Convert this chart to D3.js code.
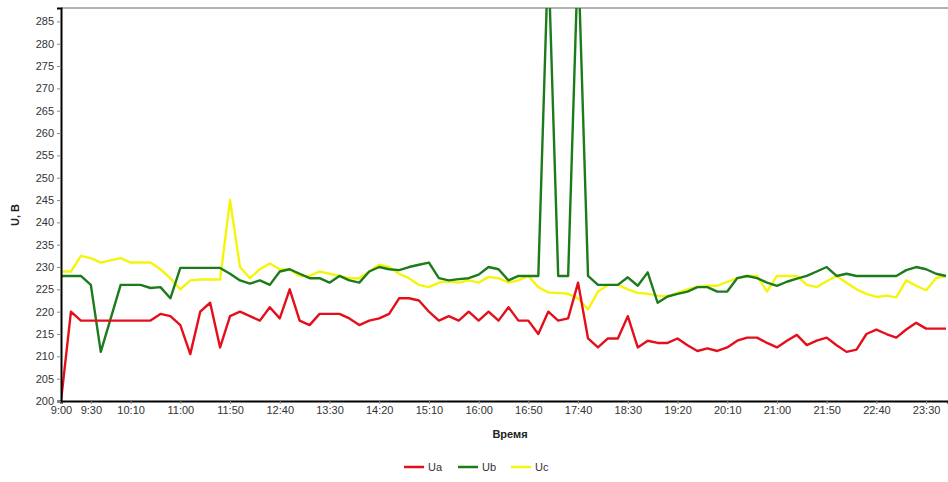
<!DOCTYPE html>
<html>
<head>
<meta charset="utf-8">
<script src="https://cdn.jsdelivr.net/npm/d3@7"></script>
<style>
  body { margin: 0; background: #fff; }
  svg { display: block; font-family: "Liberation Sans", Arial, sans-serif; }
  .tick text { fill: #333; font-size: 11px; }
</style>
</head>
<body>
<svg id="chart"></svg>
<script>
// Sample times (every 10 min)
const times = [
  "9:00","9:10","9:20","9:30","9:40","9:50","10:00","10:10","10:20","10:30","10:40","10:50",
  "11:00","11:10","11:20","11:30","11:40","11:50","12:00","12:10","12:20","12:30","12:40","12:50",
  "13:00","13:10","13:20","13:30","13:40","13:50","14:00","14:10","14:20","14:30","14:40","14:50",
  "15:00","15:10","15:20","15:30","15:40","15:50","16:00","16:10","16:20","16:30","16:40","16:50",
  "17:00","17:10","17:20","17:30","17:40","17:50","18:00","18:10","18:20","18:30","18:40","18:50",
  "19:00","19:10","19:20","19:30","19:40","19:50","20:00","20:10","20:20","20:30","20:40","20:50",
  "21:00","21:10","21:20","21:30","21:40","21:50","22:00","22:10","22:20","22:30","22:40","22:50",
  "23:00","23:10","23:20","23:30","23:40","23:50"
];

const ua = [
  200, 220, 218, 218, 218, 218, 218, 218, 218, 218, 219.5, 219,
  217, 210.5, 220, 222, 212, 219, 220, 219, 218, 221, 218.5, 225,
  218, 217, 219.5, 219.5, 219.5, 218.5, 217, 218, 218.5, 219.5, 223, 223,
  222.5, 220, 218, 219, 218, 220, 218, 220, 218, 221, 218, 218,
  215, 220, 218, 218.5, 226.5, 214, 212, 214, 214, 219, 212, 213.5,
  213, 213, 214, 212.5, 211.2, 211.8, 211.2, 212, 213.5, 214.2, 214.2, 213,
  212, 213.5, 214.8, 212.5, 213.5, 214.2, 212.5, 211, 211.5, 215, 216, 215,
  214.2, 216, 217.5, 216.2, 216.2, 216.2
];

const ub = [
  228, 228, 228, 226, 211, 218.5, 226, 226, 226, 225.3, 225.5, 223,
  229.8, 229.8, 229.8, 229.8, 229.8, 228.5, 227, 226.3, 227, 226, 229, 229.5,
  228.5, 227.5, 227.5, 226.5, 228, 227, 226.5, 229, 230, 229.5, 229.3, 230,
  230.5, 231, 227.5, 227, 227.3, 227.5, 228.3, 230, 229.5, 227, 228, 228,
  228, 300, 228, 228, 300, 228, 226, 226, 226, 227.7, 225.8, 228.8,
  222, 223.4, 224, 224.5, 225.5, 225.5, 224.5, 224.5, 227.5, 228, 227.5, 226.5,
  225.8, 226.7, 227.4, 228, 229, 230, 228, 228.5, 228, 228, 228, 228,
  228, 229.3, 230, 229.5, 228.5, 228
];

const uc = [
  229, 229, 232.5, 232, 231, 231.5, 232, 231, 231, 231, 229.5, 227.5,
  225, 227, 227.2, 227.2, 227.2, 245, 230, 227.5, 229.5, 230.8, 229.5, 229.4,
  228, 228, 229, 228.5, 228, 227.5, 227.5, 229, 230.5, 230, 228.5, 227.5,
  226, 225.5, 226.5, 226.8, 226.5, 227, 226.5, 227.8, 227.5, 226.5, 227, 228,
  225.5, 224.3, 224.2, 224, 223, 220.5, 224.5, 226, 226, 225, 224.2, 224,
  223.6, 223.4, 224.2, 225, 225.6, 225.8, 225.8, 226.7, 227.5, 228, 228, 224.5,
  228, 228, 228, 226, 225.5, 226.8, 228, 226.5, 225, 224, 223.3, 223.6,
  223.2, 227, 225.8, 224.8, 227.5, 228
];

const seriesNames = ["Ua", "Ub", "Uc"];
const seriesColors = ["#e3101c", "#1c7c1c", "#f5f50c"];

const xTickLabels = ["9:00","9:30","10:10","11:00","11:50","12:40","13:30","14:20","15:10",
  "16:00","16:50","17:40","18:30","19:20","20:10","21:00","21:50","22:40","23:30"];
const yTicks = [200,205,210,215,220,225,230,235,240,245,250,255,260,265,270,275,280,285];

// minutes since midnight
const toMin = s => { const p = s.split(":"); return +p[0] * 60 + +p[1]; };

// Chart dimensions
const W = 948, H = 482;
const margin = { top: 8, right: 0, bottom: 81, left: 61 };
const width = W - margin.left - margin.right;
const height = H - margin.top - margin.bottom;

const svg = d3.select("#chart").attr("width", W).attr("height", H);
const g = svg.append("g").attr("transform", `translate(${margin.left},${margin.top})`);

// Scales
const x = d3.scaleLinear().domain([toMin("9:00"), toMin("23:52")]).range([0, width]);
const y = d3.scaleLinear().domain([200, 288]).range([height, 0]);

// Clip so spikes stop at the frame
svg.append("defs").append("clipPath").attr("id", "clip")
  .append("rect").attr("width", width).attr("height", height);

// Top frame line
g.append("line").attr("x1", 0).attr("x2", width).attr("y1", 0).attr("y2", 0)
  .attr("stroke", "#666").attr("stroke-width", 1);

// Lines
const line = d3.line().x(d => x(d.t)).y(d => y(d.v));
const allSeries = [ua, ub, uc].map((vals, k) => ({
  name: seriesNames[k],
  color: seriesColors[k],
  values: vals.map((v, i) => ({ t: toMin(times[i]), v: v }))
}));

const plot = g.append("g").attr("clip-path", "url(#clip)");
[2, 1, 0].forEach(k => {
  plot.append("path")
    .datum(allSeries[k].values)
    .attr("fill", "none")
    .attr("stroke", allSeries[k].color)
    .attr("stroke-width", 2.4)
    .attr("stroke-linejoin", "round")
    .attr("d", line);
});

// Axes
const xAxis = d3.axisBottom(x)
  .tickValues(xTickLabels.map(toMin))
  .tickFormat((d, i) => xTickLabels[i])
  .tickSize(3);
const gx = g.append("g").attr("transform", `translate(0,${height})`).call(xAxis);
gx.select(".domain").attr("stroke", "#000").attr("stroke-width", 2);
gx.selectAll(".tick line").attr("stroke", "#888");
gx.selectAll(".tick text").attr("dy", "0.95em").attr("y", 3);

const yAxis = d3.axisLeft(y).tickValues(yTicks).tickSize(4).tickPadding(3);
const gy = g.append("g").call(yAxis);
gy.select(".domain").attr("stroke", "#000").attr("stroke-width", 2);
gy.selectAll(".tick line").attr("stroke", "#888");

// Axis titles
svg.append("text")
  .attr("x", 510).attr("y", 438)
  .attr("text-anchor", "middle")
  .attr("font-size", 11).attr("font-weight", "bold").attr("fill", "#222")
  .text("Время");

svg.append("text")
  .attr("transform", "translate(19,215) rotate(-90)")
  .attr("text-anchor", "middle")
  .attr("font-size", 11).attr("font-weight", "bold").attr("fill", "#222")
  .text("U, B");

// Legend
const legend = svg.append("g").attr("transform", "translate(404,467)");
const legendX = [0, 54, 107];
allSeries.forEach((s, k) => {
  const lg = legend.append("g").attr("transform", `translate(${legendX[k]},0)`);
  lg.append("line").attr("x1", 0).attr("x2", 20).attr("y1", 0).attr("y2", 0)
    .attr("stroke", s.color).attr("stroke-width", 2.5);
  lg.append("text").attr("x", 24).attr("y", 4)
    .attr("font-size", 11).attr("fill", "#333").text(s.name);
});
</script>
</body>
</html>
